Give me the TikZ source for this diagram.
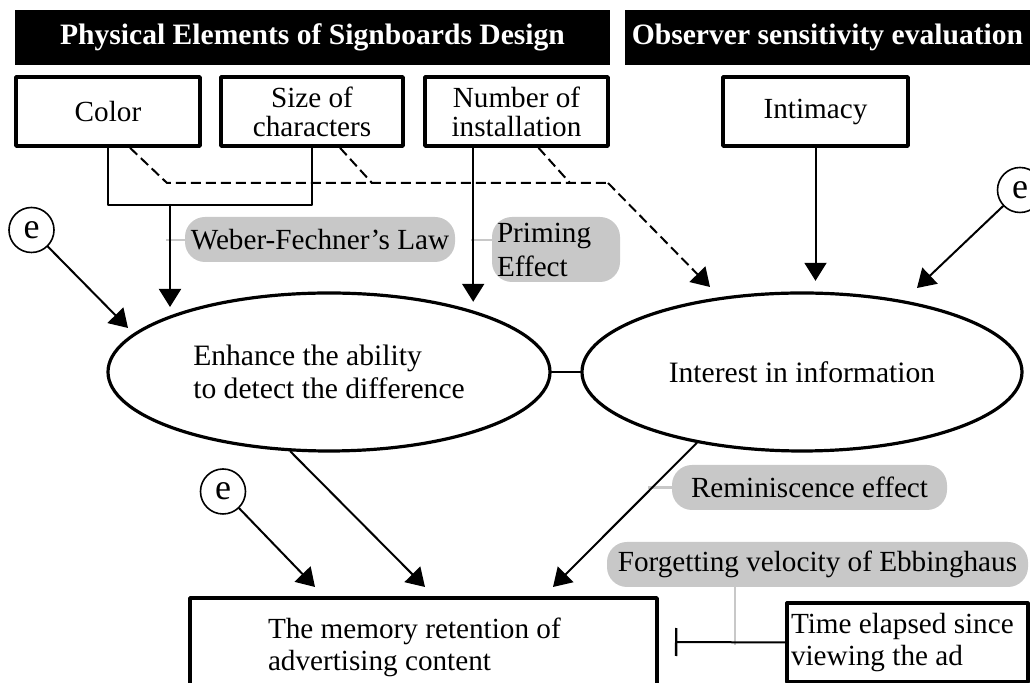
\documentclass[tikz,border=0pt]{standalone}
\usepackage{fontspec}
\setmainfont{Liberation Serif}
\usetikzlibrary{arrows.meta,shapes.geometric,positioning}
\definecolor{notegray}{RGB}{200,200,200}

\begin{document}
\begin{tikzpicture}[x=0.5pt,y=-0.5pt,line cap=round,line join=round,
  font=\fontsize{14.6}{16}\selectfont,
  hdr/.style={fill=black,text=white,inner sep=0pt,minimum height=27.5pt,
    font=\fontsize{14.8}{16}\selectfont\bfseries},
  box/.style={draw,line width=1.8pt,inner sep=0pt,minimum height=34.5pt,align=center},
  elli/.style={draw,ellipse,line width=1.6pt,inner sep=0pt,minimum width=221pt,
    minimum height=79pt,align=left,font=\fontsize{14.8}{16.5}\selectfont},
  err/.style={draw,circle,line width=0.8pt,inner sep=0pt,minimum size=22.5pt,
    font=\fontsize{18}{18}\selectfont},
  note/.style={fill=notegray,rounded corners=10pt,inner sep=0pt,minimum height=22.5pt},
  tie/.style={notegray,line width=1.3pt,line cap=butt},
  arr/.style={line width=1pt,-{Triangle[length=9pt,width=11pt]}},
  dline/.style={line width=1pt,line cap=butt,dash pattern=on 5pt off 2.5pt}]
  \clip (0,0) rectangle (1030,683);
  % headings
  \node[hdr,minimum width=297.5pt] (hdrphys) at (312.5,37.5) {Physical Elements of Signboards Design};
  \node[hdr,minimum width=202.5pt] (hdrobs) at (827.5,37.5) {Observer sensitivity evaluation};
  % signboard elements
  \node[box,minimum width=92pt] (color) at (108,111.5) {Color};
  \node[box,minimum width=91pt,font=\fontsize{14.6}{14.6}\selectfont] (size) at (312,111.5) {Size of\\characters};
  \node[box,minimum width=91.5pt,font=\fontsize{14.6}{14.6}\selectfont] (number) at (516.5,111.5) {Number of\\installation};
  \node[box,minimum width=92.5pt] (intimacy) at (815.5,111.5) {Intimacy};
  % latent variables
  \node[elli] (enhance) at (329,372) {Enhance the ability\\to detect the difference};
  \node[elli,minimum width=220pt] (interest) at (802,372) {Interest in information};
  \node[box,minimum width=233.5pt,minimum height=49pt,align=flush left,inner xsep=39pt,
    text width=155.5pt] (memory) at (423.5,647) {The memory retention of\\advertising content};
  \node[box,line width=1.6pt,minimum width=120.5pt,minimum height=39.5pt,align=flush left,
    inner xsep=2pt,text width=116.5pt] (elapsed) at (907.5,642.5) {Time elapsed since\\viewing the ad};
  % error terms
  \node[err] (eleft) at (31.5,230) {e};
  \node[err] (eright) at (1020,190) {e};
  \node[err] (ebot) at (223,491.5) {e};
  % theories
  \node[note,minimum width=135pt] (weber) at (320,239.5) {Weber-Fechner's Law};
  \node[note,minimum width=64pt,minimum height=32.5pt,align=flush left,inner xsep=2.5pt,text width=59pt,
    font=\fontsize{14.6}{17}\selectfont] (priming) at (556,249.5) {Priming\\Effect};
  \node[note,minimum width=137.5pt] (remin) at (809.5,487.5) {Reminiscence effect};
  \node[note,minimum width=210.5pt] (forget) at (817.5,564.5) {Forgetting velocity of Ebbinghaus};

  \coordinate (cj) at (170,205);
  \coordinate (wtie) at (166,240);
  \coordinate (ptie) at (471,240);
  \coordinate (d1) at (167,183);
  \coordinate (d2) at (372,183);
  \coordinate (d3) at (570,183);
  \coordinate (d4) at (608,183);
  \coordinate (memtip) at (553,587);
  \coordinate (ftie) at (735,645);

  \draw[tie] (wtie) -- (wtie -| weber.west);
  \draw[tie] (ptie) -- (ptie -| priming.west);
  \draw[tie] (ftie) -- (ftie |- forget.south);
  \path (interest.214) -- (memtip) coordinate[pos=0.31] (rtie);
  \draw[tie] ([xshift=-2pt]rtie) -- (rtie -| remin.west);

  \draw[line width=1pt] (color.south) |- (cj) -| (size.south);
  \draw[arr] (cj) -- ++(0,102);
  \draw[arr] ([xshift=25pt]number.south west) -- ++(0,154);
  \draw[arr] (intimacy.south) -- ++(0,133);
  \draw[dline] ([xshift=11pt]color.south) -- (d1) -- (d4);
  \draw[dline] ([xshift=14pt]size.south) -- (d2);
  \draw[dline] ([xshift=11pt]number.south) -- (d3);
  \draw[dline,arr] (d4) -- ++(102,104);

  \draw[arr] (eleft) -- (128,328);
  \draw[arr] (eright) -- (917,288);
  \draw[arr] (ebot) -- (315,587);
  \draw[line width=1pt] (enhance.east) -- (interest.west);
  \draw[arr] (enhance.244) -- (425,587);
  \draw[arr] (interest.214) -- (memtip);
  \draw[line width=1pt,-{Bar[width=14pt,line width=1.2pt]}] (elapsed.west) -- (675,642);
\end{tikzpicture}
\end{document}
